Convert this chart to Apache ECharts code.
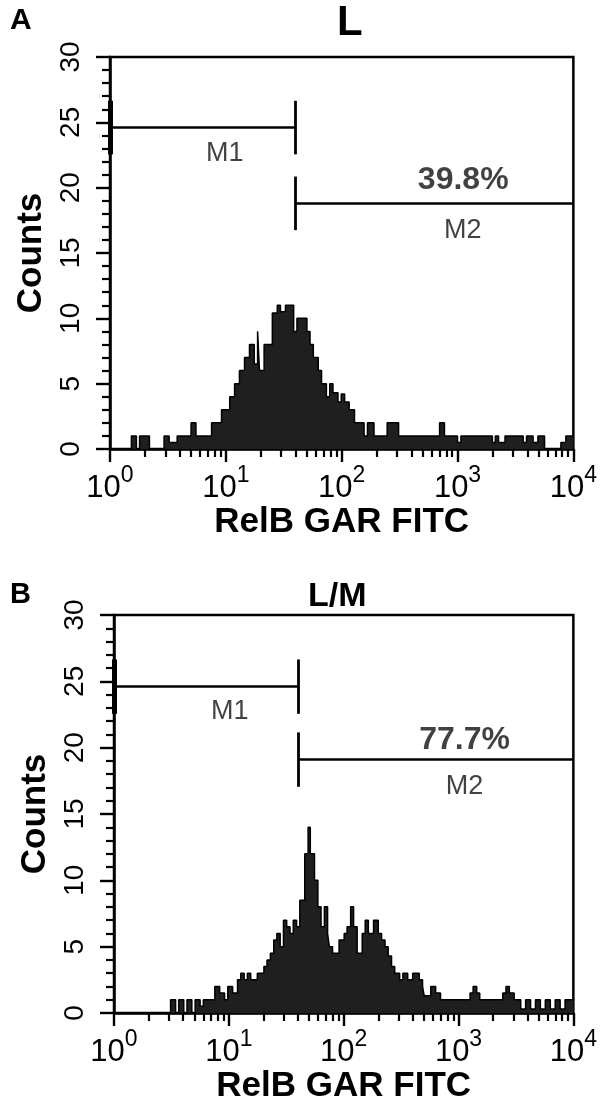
<!DOCTYPE html>
<html>
<head>
<meta charset="utf-8">
<script src="https://cdn.jsdelivr.net/npm/echarts@6/dist/echarts.min.js"></script>
<style>
  html, body { margin: 0; padding: 0; background: #fff; }
  #chart { width: 600px; height: 1111px; }
</style>
</head>
<body>
<div id="chart"></div>
<script>
// panel A (L): left edge of each histogram step and its count
const aEdges = [1, 1.53, 1.69, 1.80, 2.19, 2.93, 3.24, 3.80, 5.01, 5.52, 7.53, 9.18,
  10.8, 11.9, 13.1, 14.5, 16.0, 17.6, 18.8, 19.5, 21.4, 25.2, 27.8, 29.6, 32.7, 38.5,
  41.1, 50.1, 53.3, 56.9, 62.8, 67.0, 73.8, 78.9, 84.1, 92.9, 99.1, 106, 116, 129,
  156, 167, 190, 247, 310, 700, 771, 1000, 1070, 2000, 2120, 2260, 2570, 3690, 3940,
  4490, 4940, 5640, 7800, 8610, 10000];
const aCounts = [0, 1, 0, 1, 0, 1, 0.5, 1, 2, 1, 2, 3,
  4, 5, 6, 7, 8, 6.5, 9, 6, 8, 10.4, 11, 10.5, 11, 9,
  10, 9, 8, 7, 6, 5, 4, 5, 4.3, 3.6, 4.2, 3.6, 3, 2,
  1, 2, 1, 2, 1, 2, 1, 0.5, 1, 0.5, 1, 0.5, 1, 0.5, 1,
  0.5, 1, 0, 0.5, 1, 1];

// panel B (L/M)
const bEdges = [1, 3.11, 3.44, 3.66, 4.05, 4.32, 4.76, 5.09, 5.62, 6.00, 7.55, 8.32,
  9.18, 9.79, 10.8, 11.9, 12.7, 13.6, 14.5, 15.5, 17.7, 20.2, 21.5, 23.0, 24.6, 26.2,
  28.0, 29.9, 31.9, 34.1, 36.4, 38.9, 41.5, 45.8, 49.0, 51.2, 55.7, 59.6, 63.5, 67.9,
  72.4, 75.0, 80.0, 91.2, 101, 107, 115, 122, 131, 145, 154, 164, 182, 200, 214, 229,
  244, 261, 278, 307, 328, 361, 399, 455, 486, 502, 573, 632, 697, 1260, 1340, 1440,
  1530, 2430, 2590, 2770, 3050, 3480, 3840, 4240, 4680, 5160, 5700, 6300, 6950, 7670,
  8470, 10000];
const bCounts = [0, 1, 0, 1, 0, 1, 0, 1, 0.5, 1, 2, 1.5,
  1, 2, 1.5, 2.5, 3, 2.5, 3, 2.5, 3, 3.5, 4, 4.5, 5.5, 6,
  5, 7, 6.5, 6, 7, 6.5, 8.5, 12, 14, 12, 10, 8, 6.5, 8,
  6, 5, 4.5, 5.5, 6, 6.5, 8, 6.5, 4.5, 6, 7, 6, 7, 6, 5.5, 5,
  4.3, 3.5, 3, 2.5, 3, 2.5, 3, 2.5, 2, 1.3, 2, 1.5, 1, 1.5, 2, 1.5,
  1, 1.5, 2, 1.5, 1, 0.3, 1, 0.3, 1, 0.3, 1, 0.3, 1, 0.3,
  1, 1];

const decades = [1, 10, 100, 1000, 10000];
const minorX = [2, 3, 4, 5, 6, 7, 8, 9, 20, 30, 40, 50, 60, 70, 80, 90,
  200, 300, 400, 500, 600, 700, 800, 900, 2000, 3000, 4000, 5000, 6000, 7000, 8000, 9000];

// marker gates: [from, to, level]
const aM1 = [1, 39.7, 24.6];
const aM2 = [39.7, 10000, 18.8];
const bM1 = [1, 40.2, 24.6];
const bM2 = [40.2, 10000, 19.1];
const capHalf = 2.05;

const aPct = '39.8%';
const bPct = '77.7%';
// text anchors [x, count]
const aTextPos = { m1: [9.8, 22.6], pct: [1120, 20.6], m2: [1110, 16.7] };
const bTextPos = { m1: [10.2, 22.7], pct: [1130, 20.6], m2: [1130, 17.1] };

const ink = '#000';
const font = '"Liberation Sans", Arial, Helvetica, sans-serif';

const chart = echarts.init(document.getElementById('chart'), null, { renderer: 'canvas' });

const grids = [
  { left: 110, top: 57, width: 471, height: 392 },
  { left: 114, top: 615, width: 468, height: 398 }
].map(g => Object.assign(g, { show: true, borderColor: ink, borderWidth: 2.5, backgroundColor: 'transparent' }));

const xAxes = [];
const yAxes = [];
[0, 1].forEach(g => {
  xAxes.push({
    type: 'log', logBase: 10, min: 1, max: 10000, gridIndex: g, position: 'bottom',
    axisLine: { show: true, onZero: false, lineStyle: { color: ink, width: 2.5 } },
    axisTick: { show: true, length: 13, customValues: decades, lineStyle: { color: ink, width: 2.4 } },
    axisLabel: {
      customValues: decades, margin: 15, color: ink, fontFamily: font,
      formatter: v => '{b|10}{s|' + Math.round(Math.log10(v)) + '}',
      rich: {
        b: { fontSize: 31, lineHeight: 48, fontFamily: font, color: ink },
        s: { fontSize: 23, lineHeight: 24, verticalAlign: 'top', fontFamily: font, color: ink }
      }
    },
    splitLine: { show: false },
    name: 'RelB GAR FITC', nameLocation: 'middle', nameGap: 54,
    nameTextStyle: { fontSize: 35, fontWeight: 'bold', color: ink, fontFamily: font }
  });
  xAxes.push({
    type: 'log', logBase: 10, min: 1, max: 10000, gridIndex: g, position: 'bottom', offset: 0,
    axisLine: { show: false },
    axisTick: { show: true, length: 8, customValues: minorX, lineStyle: { color: ink, width: 2.2 } },
    axisLabel: { show: false },
    splitLine: { show: false }
  });
  yAxes.push({
    type: 'value', gridIndex: g, min: 0, max: 30, interval: 5,
    axisLine: { show: true, lineStyle: { color: ink, width: 2.5 } },
    axisTick: { show: true, length: 14, lineStyle: { color: ink, width: 2.4 } },
    minorTick: { show: true, splitNumber: 5, length: 8, lineStyle: { color: ink, width: 2.2 } },
    splitLine: { show: false },
    minorSplitLine: { show: false },
    axisLabel: { rotate: 90, margin: 25, fontSize: 28, color: ink, fontFamily: font },
    name: 'Counts', nameLocation: 'middle', nameGap: 57,
    nameTextStyle: { fontSize: 35, fontWeight: 'bold', color: ink, fontFamily: font }
  });
});

function histSeries(g, edges, counts) {
  return {
    type: 'line', xAxisIndex: g * 2, yAxisIndex: g, step: 'end',
    symbol: 'none', animation: false, silent: true,
    data: edges.map((e, k) => [e, counts[k]]),
    lineStyle: { color: '#000', width: 1.5 },
    areaStyle: { color: '#1f1f1f', opacity: 1, origin: 'start' },
    z: 2
  };
}

function gateSeries(g, m1, m2) {
  const seg = (p, q, w) => ({ coords: [p, q], lineStyle: { width: w } });
  return {
    type: 'lines', coordinateSystem: 'cartesian2d', xAxisIndex: g * 2, yAxisIndex: g,
    clip: false, animation: false, silent: true,
    lineStyle: { color: ink, width: 2.5, opacity: 1 },
    data: [
      seg([m1[0], m1[2]], [m1[1], m1[2]], 2.5),
      seg([m1[0], m1[2] - capHalf], [m1[0], m1[2] + capHalf], 5),
      seg([m1[1], m1[2] - capHalf], [m1[1], m1[2] + capHalf], 2.8),
      seg([m2[0], m2[2]], [m2[1], m2[2]], 2.5),
      seg([m2[0], m2[2] - capHalf], [m2[0], m2[2] + capHalf], 2.8)
    ],
    z: 3
  };
}

function textSeries(g, pos, pct) {
  const item = (p, txt, size, weight) => ({
    value: p,
    label: { show: true, position: 'inside', formatter: txt, fontSize: size, fontWeight: weight, color: '#111', fontFamily: font }
  });
  return {
    type: 'scatter', xAxisIndex: g * 2, yAxisIndex: g, symbolSize: 1,
    itemStyle: { color: 'transparent' }, animation: false, silent: true,
    data: [
      item(pos.m1, 'M1', 27, 'normal'),
      item(pos.pct, pct, 32, 'bold'),
      item(pos.m2, 'M2', 27, 'normal')
    ],
    z: 4
  };
}

const textStyle = (txt, size) => ({ text: txt, fill: ink, fontSize: size, fontWeight: 'bold', fontFamily: font });

chart.setOption({
  animation: false,
  backgroundColor: '#fff',
  grid: grids,
  xAxis: xAxes,
  yAxis: yAxes,
  graphic: [
    { type: 'text', left: 10, top: 6, style: textStyle('A', 30) },
    { type: 'text', left: 337, top: 2, style: textStyle('L', 42) },
    { type: 'text', left: 10, top: 580, style: textStyle('B', 29) },
    { type: 'text', left: 308, top: 580, style: textStyle('L/M', 34) }
  ],
  series: [
    histSeries(0, aEdges, aCounts),
    gateSeries(0, aM1, aM2),
    textSeries(0, aTextPos, aPct),
    histSeries(1, bEdges, bCounts),
    gateSeries(1, bM1, bM2),
    textSeries(1, bTextPos, bPct)
  ]
});
</script>
</body>
</html>
